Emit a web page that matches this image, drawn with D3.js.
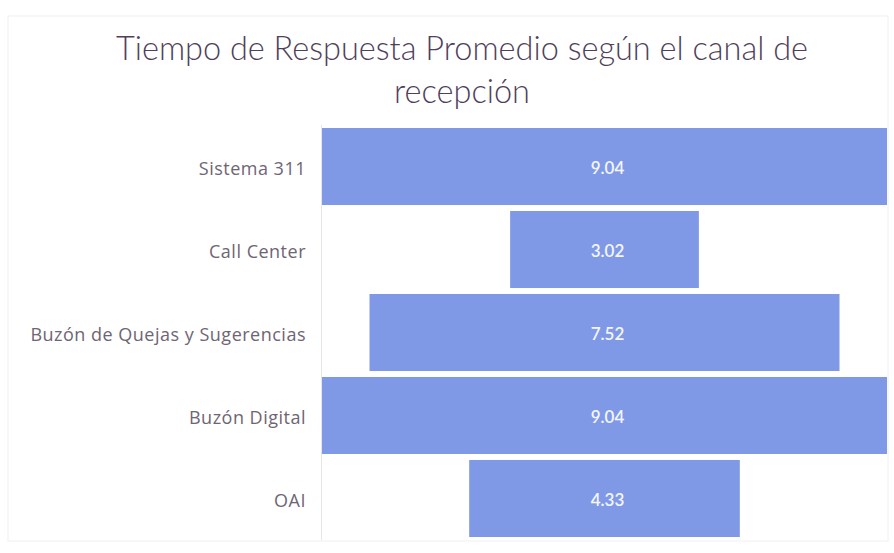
<!DOCTYPE html>
<html><head><meta charset="utf-8">
<script src="https://cdn.jsdelivr.net/npm/d3@7"></script>
<style>body{margin:0;background:#fff}svg{display:block}</style>
</head><body>
<svg id="c" width="894" height="553"></svg>
<script>
const categories = ["Sistema 311","Call Center","Buzón de Quejas y Sugerencias","Buzón Digital","OAI"];
const values = [9.04, 3.02, 7.52, 9.04, 4.33];
const valueLabels = ["9.04","3.02","7.52","9.04","4.33"];
const titleLines = ["Tiempo de Respuesta Promedio según el canal de","recepción"];

const svg = d3.select("#c");
const maxV = d3.max(values);
const x = d3.scaleLinear().domain([-maxV/2, maxV/2]).range([322, 887]);
const y = d3.scaleBand().domain(categories).range([128, 537]).paddingInner(0.072).paddingOuter(0);

// faint frame
svg.append("rect").attr("x",8).attr("y",16).attr("width",880).attr("height",525)
  .attr("fill","none").attr("stroke","#f0f0f0").attr("stroke-width",1);
// axis line
svg.append("line").attr("x1",321.5).attr("x2",321.5).attr("y1",125).attr("y2",540)
  .attr("stroke","#e6e6e6");

svg.append("g").selectAll("rect").data(values).join("rect")
  .attr("x",(d)=>x(-d/2)).attr("width",(d)=>x(d/2)-x(-d/2))
  .attr("y",(d,i)=>y(categories[i])).attr("height",y.bandwidth())
  .attr("fill","#8099e6");

svg.append("g").selectAll("text").data(valueLabels).join("text")
  .attr("x",x(0)+3).attr("y",(d,i)=>y(categories[i])+y.bandwidth()/2+3)
  .attr("text-anchor","middle").attr("dominant-baseline","middle")
  .attr("font-family","Lato").attr("font-weight",600).attr("font-size",17)
  .attr("fill","#f4f6ff").text(d=>d);

const yAxis = d3.axisLeft(y).tickSize(0).tickPadding(0);
const ga = svg.append("g").attr("transform","translate(306,0)").call(yAxis);
ga.select(".domain").remove();
ga.selectAll("text").attr("font-family","'Open Sans'").attr("font-size",18)
  .attr("letter-spacing","0.5px")
  .attr("fill","#6e6574").attr("dy","0.45em");

svg.append("g").selectAll("text").data(titleLines).join("text")
  .attr("x",462).attr("y",(d,i)=>60+i*43).attr("text-anchor","middle")
  .attr("font-family","Lato").attr("font-weight",300).attr("font-size",32.5)
  .attr("fill","#4f3f5c").text(d=>d);
</script>
</body></html>
